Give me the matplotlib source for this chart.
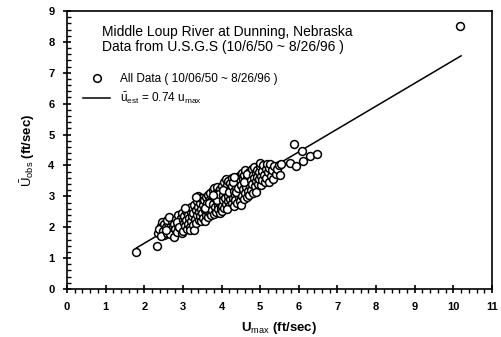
import matplotlib
matplotlib.use("Agg")
import matplotlib.pyplot as plt
import numpy as np
from matplotlib.ticker import MultipleLocator
from matplotlib.lines import Line2D

#====================DATA====================

u_max = [
    1.79, 2.33, 5.78, 5.87, 5.93, 6.07, 6.11, 6.28, 6.47, 10.18,
    2.35, 2.42, 2.45, 2.38, 2.48, 2.52, 2.50, 2.44,
    2.55, 2.58, 2.62, 2.65, 2.68, 2.60, 2.70, 2.72, 2.66, 2.74, 2.56, 2.63,
    2.76, 2.78, 2.80, 2.82, 2.85, 2.86, 2.88, 2.90, 2.92, 2.94, 2.95, 2.97, 2.98, 2.84, 2.91, 2.99,
    3.00, 3.02, 3.04, 3.05, 3.07, 3.08, 3.10, 3.12, 3.13, 3.15, 3.16, 3.18, 3.20, 3.21, 3.22, 3.24, 3.06, 3.19,
    3.26, 3.27, 3.28, 3.30, 3.31, 3.33, 3.34, 3.36, 3.37, 3.38, 3.40, 3.41, 3.42, 3.44, 3.45, 3.46, 3.47, 3.48, 3.49, 3.35,
    3.50, 3.52, 3.53, 3.55, 3.56, 3.57, 3.59, 3.60, 3.61, 3.63, 3.64, 3.65, 3.66, 3.68, 3.69, 3.70, 3.71, 3.72, 3.74, 3.73, 3.58, 3.67,
    3.76, 3.77, 3.78, 3.80, 3.81, 3.82, 3.83, 3.85, 3.86, 3.87, 3.88, 3.90, 3.91, 3.92, 3.93, 3.95, 3.96, 3.97, 3.98, 3.99, 3.84, 3.89, 3.94, 3.79,
    4.00, 4.01, 4.02, 4.03, 4.05, 4.06, 4.07, 4.08, 4.10, 4.11, 4.12, 4.13, 4.15, 4.16, 4.17, 4.18, 4.20, 4.21, 4.22, 4.23, 4.24, 4.04, 4.14, 4.19,
    4.26, 4.27, 4.28, 4.30, 4.31, 4.32, 4.34, 4.35, 4.36, 4.38, 4.39, 4.40, 4.41, 4.42, 4.44, 4.45, 4.46, 4.47, 4.48, 4.49, 4.29, 4.37, 4.43, 4.33,
    4.50, 4.51, 4.52, 4.54, 4.55, 4.56, 4.58, 4.59, 4.60, 4.61, 4.62, 4.64, 4.65, 4.66, 4.68, 4.69, 4.70, 4.71, 4.72, 4.74, 4.57, 4.67,
    4.76, 4.77, 4.78, 4.80, 4.81, 4.82, 4.84, 4.85, 4.86, 4.88, 4.89, 4.90, 4.92, 4.93, 4.95, 4.96, 4.98, 4.99,
    5.00, 5.01, 5.03, 5.05, 5.06, 5.08, 5.10, 5.12, 5.14, 5.16, 5.18, 5.20, 5.22, 5.24,
    5.26, 5.28, 5.30, 5.33, 5.36, 5.40, 5.44, 5.48, 5.52, 5.55,
]

u_obs = [
    1.19, 1.38, 4.08, 4.70, 3.99, 4.46, 4.16, 4.31, 4.37, 8.52,
    1.80, 2.05, 2.18, 1.95, 1.88, 1.76, 2.12, 1.70,
    2.00, 1.82, 2.15, 1.95, 2.08, 2.25, 1.88, 2.20, 1.78, 2.02, 1.92, 2.32,
    1.67, 2.10, 1.95, 2.28, 1.85, 2.05, 2.40, 2.18, 1.98, 2.30, 2.12, 1.82, 2.45, 2.18, 2.02, 2.25,
    1.87, 2.15, 2.35, 2.05, 2.52, 2.25, 1.95, 2.40, 2.12, 2.58, 2.30, 2.02, 2.48, 2.20, 2.65, 2.35, 2.62, 1.90,
    2.08, 2.45, 1.92, 2.72, 2.28, 2.55, 2.15, 2.85, 2.40, 2.65, 3.00, 2.25, 2.50, 2.78, 2.35, 2.95, 2.60, 2.20, 2.94, 2.98,
    2.45, 2.72, 2.30, 2.88, 2.55, 2.20, 2.98, 2.65, 2.40, 2.80, 2.50, 3.05, 2.32, 2.70, 2.90, 2.45, 3.12, 2.60, 2.85, 2.38, 2.62, 2.78,
    2.55, 3.20, 2.75, 3.27, 2.42, 2.95, 2.65, 3.10, 2.50, 2.85, 3.30, 2.70, 3.02, 2.58, 3.18, 2.80, 2.45, 3.25, 2.92, 2.62, 2.98, 2.88, 3.08, 3.05,
    3.35, 2.70, 2.52, 3.05, 2.88, 3.45, 2.62, 3.20, 2.95, 3.55, 2.75, 3.12, 3.38, 2.85, 3.00, 3.50, 2.68, 3.25, 2.92, 3.42, 3.08, 3.22, 2.58, 3.15,
    2.80, 3.35, 3.60, 2.95, 3.18, 2.70, 3.48, 3.05, 2.88, 3.30, 3.58, 2.78, 3.12, 3.42, 2.98, 3.65, 3.22, 2.85, 3.52, 3.08, 3.45, 3.15, 3.28, 3.62,
    3.38, 2.72, 3.75, 3.02, 3.55, 3.25, 2.92, 3.68, 3.40, 3.12, 3.85, 3.30, 2.98, 3.58, 3.45, 3.18, 3.80, 3.05, 3.62, 3.35, 3.48, 3.72,
    3.52, 3.22, 3.88, 3.40, 3.70, 3.10, 3.60, 3.95, 3.32, 3.75, 3.50, 3.15, 3.85, 3.62, 3.40, 3.78, 3.55, 3.98,
    4.08, 3.65, 3.38, 3.82, 3.52, 4.02, 3.70, 3.45, 3.90, 3.60, 4.05, 3.78, 3.48, 3.92,
    4.05, 3.65, 3.85, 3.55, 3.98, 3.72, 3.88, 4.02, 3.70, 4.05,
]

fit_x = [1.8, 10.2]
fit_slope = 0.74

#====================PLOT====================

plt.rcParams['font.family'] = ['Liberation Sans', 'DejaVu Sans']
plt.rcParams['mathtext.fontset'] = 'custom'
plt.rcParams['mathtext.rm'] = 'Liberation Sans'
plt.rcParams['mathtext.it'] = 'Liberation Sans'
plt.rcParams['mathtext.bf'] = 'Liberation Sans:bold'

fig = plt.figure(figsize=(5.02, 3.37), dpi=100)
ax = fig.add_axes([0.1335, 0.1424, 0.8465, 0.825])

fit_x = np.array(fit_x)
ax.plot(fit_x, fit_slope * fit_x, color='black', lw=1.1, zorder=2)
ax.scatter(u_max, u_obs, s=32, facecolors='white', edgecolors='black', linewidths=1.1, zorder=3)

ax.set_xlim(0, 11)
ax.set_ylim(0, 9)
ax.xaxis.set_major_locator(MultipleLocator(1))
ax.xaxis.set_minor_locator(MultipleLocator(0.2))
ax.yaxis.set_major_locator(MultipleLocator(1))
ax.yaxis.set_minor_locator(MultipleLocator(0.2))
ax.tick_params(axis='x', which='major', direction='inout', length=6, width=1.2, labelsize=8, pad=6)
ax.tick_params(axis='x', which='minor', direction='out', length=3, width=1.0)
ax.tick_params(axis='y', which='major', direction='inout', length=6, width=1.2, labelsize=8, pad=6)
ax.tick_params(axis='y', which='minor', direction='in', length=3, width=1.0)
for lab in ax.get_xticklabels() + ax.get_yticklabels():
    lab.set_fontweight('bold')
for sp in ax.spines.values():
    sp.set_linewidth(1.2)

ax.set_xlabel(r'U$_{max}$ (ft/sec)', fontsize=9.5, fontweight='bold', labelpad=6)
ax.set_ylabel(r'$\bar{\mathrm{U}}_{obs}$ (ft/sec)', fontsize=9.5, fontweight='bold', labelpad=8)

ax.text(0.083, 0.95, 'Middle Loup River at Dunning, Nebraska\nData from U.S.G.S (10/6/50 ~ 8/26/96 )',
        transform=ax.transAxes, fontsize=10, va='top', ha='left', linespacing=1.1)

handles = [
    Line2D([], [], ls='none', marker='o', markersize=5.5, markerfacecolor='white',
           markeredgecolor='black', markeredgewidth=1.1),
    Line2D([], [], color='black', lw=1.1),
]
labels = ['All Data ( 10/06/50 ~ 8/26/96 )', r'$\bar{u}_{est}$ = 0.74 u$_{max}$']
ax.legend(handles, labels, loc='center left', bbox_to_anchor=(0.038, 0.718), frameon=False,
          fontsize=8.5, handlelength=2.3, handletextpad=0.8, borderpad=0, borderaxespad=0,
          labelspacing=0.45)

fig.savefig('out.png', dpi=100)
